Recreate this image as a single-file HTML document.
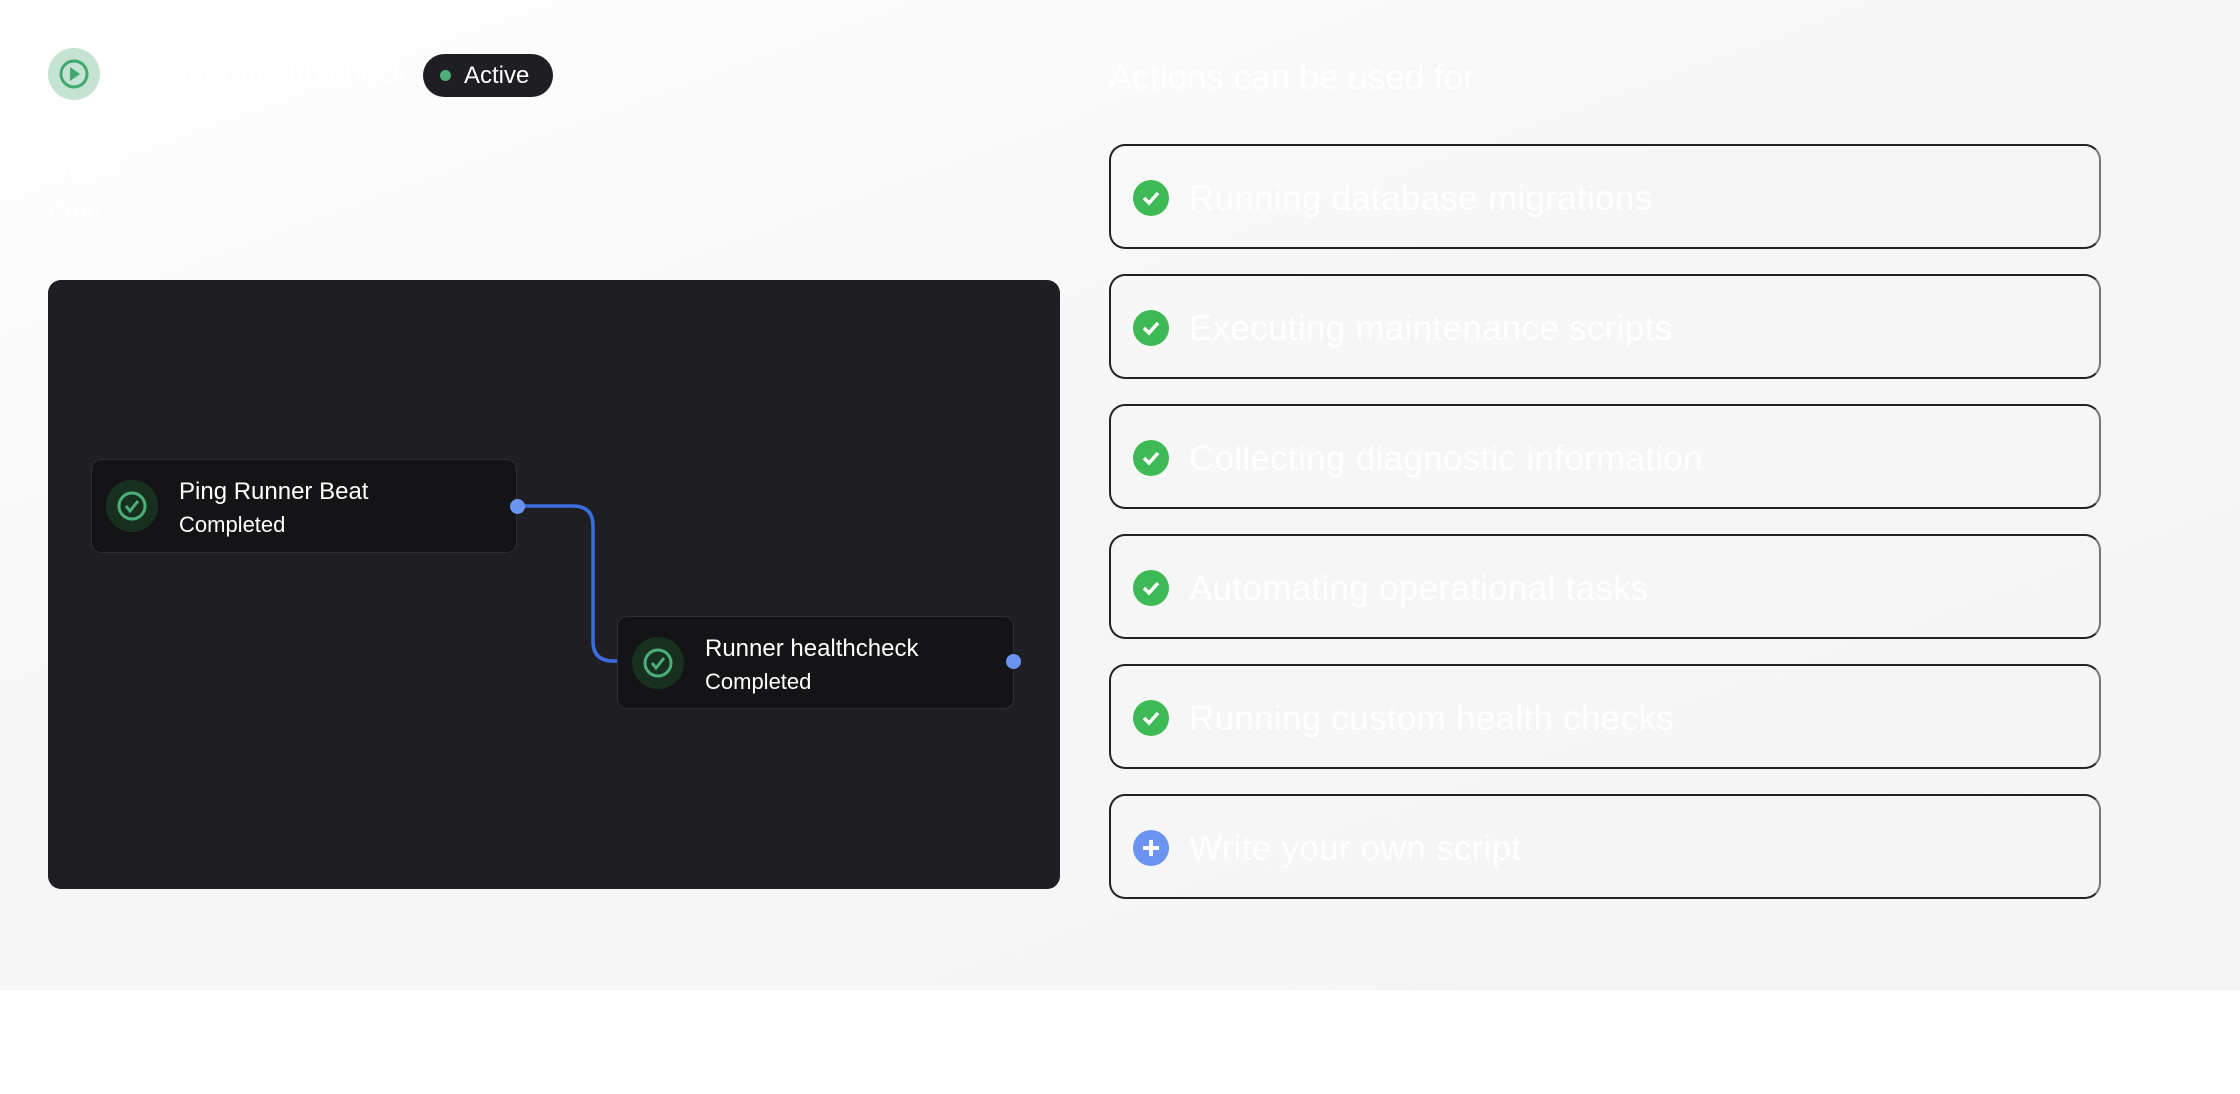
<!DOCTYPE html>
<html><head><meta charset="utf-8"><style>
*{box-sizing:border-box;margin:0;padding:0}
body{width:2240px;height:1094px;background:#fff;font-family:"Liberation Sans",sans-serif;position:relative;overflow:hidden}
.bg{position:absolute;left:0;top:0;width:2240px;height:990px;background:linear-gradient(160deg,#ffffff 0%,#f6f6f6 45%,#f5f5f5 100%)}
.abs{position:absolute}
.card{position:absolute;left:1109px;width:992px;height:105px;border:2.5px solid #222;border-right-color:#777;border-radius:16px}
.card .ic{position:absolute;left:22px;top:34px;width:36px;height:36px;border-radius:50%;background:#3dba55}
.card .t{position:absolute;left:78px;top:33px;font-size:35px;color:#fff;white-space:nowrap;letter-spacing:0.3px}
.node{position:absolute;background:#141316;border:1.5px solid #2e2d33;border-radius:10px}
.node .ci{position:absolute;left:14px;top:20px;width:52px;height:52px;border-radius:50%;background:#18301f}
.node .n1{position:absolute;left:87px;top:18px;font-size:24px;color:#fff;white-space:nowrap}
.node .n2{position:absolute;left:87px;top:52px;font-size:22px;color:#fff;white-space:nowrap}
</style></head><body>
<div class="bg"></div>
<div class="abs" style="left:48px;top:48px;width:52px;height:52px;border-radius:50%;background:#c5e3d2"></div>
<svg class="abs" style="left:48px;top:48px" width="52" height="52"><circle cx="26" cy="26" r="13" fill="none" stroke="#3fa96e" stroke-width="3"/><path d="M22 19 L32 26 L22 33Z" fill="#3fa96e"/></svg>
<div class="abs" style="left:133px;top:58px;font-size:30px;color:#fff">Runner health check</div>
<div class="abs" style="left:423px;top:54px;width:130px;height:43px;border-radius:22px;background:#1f1e22"></div>
<div class="abs" style="left:440px;top:70px;width:11px;height:11px;border-radius:50%;background:#4caf7a"></div>
<div class="abs" style="left:464px;top:62px;font-size:24px;color:#fff">Active</div>
<div class="abs" style="left:48px;top:155px;font-size:24px;color:#fff">Trigger</div>
<div class="abs" style="left:48px;top:199px;font-size:24px;color:#fff">Cron</div>
<div class="abs" style="left:48px;top:280px;width:1012px;height:609px;border-radius:13px;background:#1f1e22"></div>
<svg class="abs" style="left:0;top:0" width="1100" height="900">
<path d="M517 506 H573 Q593 506 593 526 V641 Q593 661 613 661 H617" fill="none" stroke="#3a6ee0" stroke-width="3.5"/>
</svg>
<div class="node" style="left:91px;top:459px;width:426px;height:94px">
<div class="ci"></div>
<svg class="abs" style="left:14px;top:20px" width="52" height="52"><circle cx="26" cy="26" r="13" fill="none" stroke="#4caf7a" stroke-width="3"/><path d="M20 26 L24 31 L32 21" fill="none" stroke="#4caf7a" stroke-width="3"/></svg>
<div class="n1">Ping Runner Beat</div><div class="n2">Completed</div></div>
<div class="node" style="left:617px;top:616px;width:397px;height:93px">
<div class="ci"></div>
<svg class="abs" style="left:14px;top:20px" width="52" height="52"><circle cx="26" cy="26" r="13" fill="none" stroke="#4caf7a" stroke-width="3"/><path d="M20 26 L24 31 L32 21" fill="none" stroke="#4caf7a" stroke-width="3"/></svg>
<div class="n1">Runner healthcheck</div><div class="n2">Completed</div></div>
<div class="abs" style="left:510px;top:499px;width:15px;height:15px;border-radius:50%;background:#6b93f2"></div>
<div class="abs" style="left:1006px;top:654px;width:15px;height:15px;border-radius:50%;background:#6b93f2"></div>
<div class="abs" style="left:1109px;top:58px;font-size:35px;color:#fff">Actions can be used for</div>
<div class="card" style="top:144px"><div class="ic"></div><svg class="abs" style="left:22px;top:34px" width="36" height="36"><path d="M11 18 L16 23 L25 13" fill="none" stroke="#fff" stroke-width="3.5"/></svg><div class="t">Running database migrations</div></div>
<div class="card" style="top:274px"><div class="ic"></div><svg class="abs" style="left:22px;top:34px" width="36" height="36"><path d="M11 18 L16 23 L25 13" fill="none" stroke="#fff" stroke-width="3.5"/></svg><div class="t">Executing maintenance scripts</div></div>
<div class="card" style="top:404px"><div class="ic"></div><svg class="abs" style="left:22px;top:34px" width="36" height="36"><path d="M11 18 L16 23 L25 13" fill="none" stroke="#fff" stroke-width="3.5"/></svg><div class="t">Collecting diagnostic information</div></div>
<div class="card" style="top:534px"><div class="ic"></div><svg class="abs" style="left:22px;top:34px" width="36" height="36"><path d="M11 18 L16 23 L25 13" fill="none" stroke="#fff" stroke-width="3.5"/></svg><div class="t">Automating operational tasks</div></div>
<div class="card" style="top:664px"><div class="ic"></div><svg class="abs" style="left:22px;top:34px" width="36" height="36"><path d="M11 18 L16 23 L25 13" fill="none" stroke="#fff" stroke-width="3.5"/></svg><div class="t">Running custom health checks</div></div>
<div class="card" style="top:794px"><div class="ic" style="background:#6b93f2"></div><svg class="abs" style="left:22px;top:34px" width="36" height="36"><path d="M18 10 V26 M10 18 H26" stroke="#fff" stroke-width="4"/></svg><div class="t">Write your own script</div></div>
</body></html>
